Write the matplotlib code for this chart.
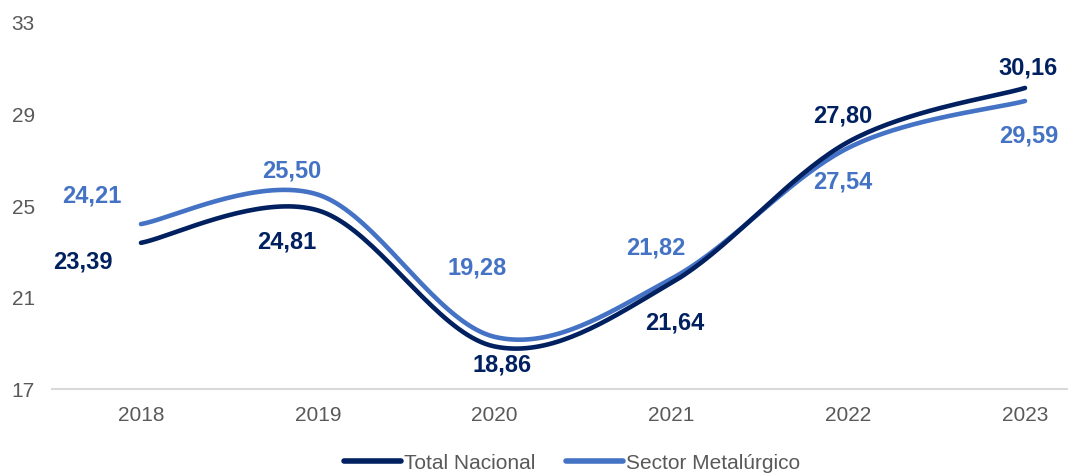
import numpy as np
import matplotlib
matplotlib.use("Agg")
import matplotlib.pyplot as plt

years = ["2018", "2019", "2020", "2021", "2022", "2023"]
total_nacional = [23.39, 24.81, 18.86, 21.64, 27.80, 30.16]
sector_metalurgico = [24.21, 25.50, 19.28, 21.82, 27.54, 29.59]
yticks = [17, 21, 25, 29, 33]

# label offsets (layout only)
tn_off = [(-0.33, 22.55), (-0.175, 23.42), (0.04, 18.05), (0.02, 19.88), (-0.03, 28.92), (0.02, 31.02)]
sm_off = [(-0.28, 25.43), (-0.15, 26.52), (-0.10, 22.28), (-0.09, 23.16), (-0.03, 26.04), (0.02, 28.05)]

DARK = "#002060"
LIGHT = "#4472C4"

plt.rcParams['font.family'] = ['Liberation Sans', 'DejaVu Sans']


def smooth(xs, ys, n=40):
    xs = np.asarray(xs, float)
    ys = np.asarray(ys, float)
    P = np.column_stack([xs, ys])
    out = []
    m = len(P)
    for i in range(m - 1):
        p0 = P[i - 1] if i > 0 else P[i]
        p1 = P[i]
        p2 = P[i + 1]
        p3 = P[i + 2] if i + 2 < m else P[i + 1]
        c1 = p1 + (p2 - p0) / 6.0
        c2 = p2 - (p3 - p1) / 6.0
        t = np.linspace(0, 1, n)[:, None]
        seg = ((1 - t) ** 3) * p1 + 3 * ((1 - t) ** 2) * t * c1 + 3 * (1 - t) * t ** 2 * c2 + t ** 3 * p2
        out.append(seg if i == 0 else seg[1:])
    s = np.vstack(out)
    return s[:, 0], s[:, 1]


fig = plt.figure(figsize=(10.68, 4.73), dpi=100)
ax = fig.add_axes([52 / 1068, 1 - 389 / 473, 1 - 52 / 1068, (389 - 23) / 473])

x = np.arange(len(years))
sx, sy = smooth(x, total_nacional)
ax.plot(sx, sy, color=DARK, lw=3.3, solid_capstyle='round', label="Total Nacional", zorder=3)
sx2, sy2 = smooth(x, sector_metalurgico)
ax.plot(sx2, sy2, color=LIGHT, lw=3.3, solid_capstyle='round', label="Sector Metalúrgico", zorder=2)

for i, v in enumerate(total_nacional):
    dx, yy = tn_off[i]
    ax.text(x[i] + dx, yy, f"{v:.2f}".replace('.', ','), color=DARK, fontsize=17,
            fontweight='bold', ha='center', va='center')
for i, v in enumerate(sector_metalurgico):
    dx, yy = sm_off[i]
    ax.text(x[i] + dx, yy, f"{v:.2f}".replace('.', ','), color=LIGHT, fontsize=17,
            fontweight='bold', ha='center', va='center')

# 2018 at px 141, spacing 176.8 px, axes left 52 px, right 1068 px
sp = 176.8
ax.set_xlim(-(141 - 52) / sp, 5 + (1068 - 1025) / sp)
ax.set_ylim(17, 33)
ax.set_yticks(yticks)
ax.set_xticks(x)
ax.set_xticklabels(years)
ax.tick_params(axis='both', length=0, labelsize=15, colors='#595959')
ax.tick_params(axis='x', pad=12)
ax.tick_params(axis='y', pad=12.5)
for s in ['top', 'right', 'left']:
    ax.spines[s].set_visible(False)
ax.spines['bottom'].set_color('#D9D9D9')
ax.spines['bottom'].set_linewidth(1.5)

leg = fig.legend(loc='center', bbox_to_anchor=(572 / 1068, 1 - 463 / 473), ncol=2,
                 frameon=False, fontsize=15, handlelength=2.7, handletextpad=0.15,
                 columnspacing=1.5, borderaxespad=0)
for t in leg.get_texts():
    t.set_color('#595959')
for h in leg.legend_handles:
    h.set_linewidth(4)

fig.savefig("out.png", dpi=100)
